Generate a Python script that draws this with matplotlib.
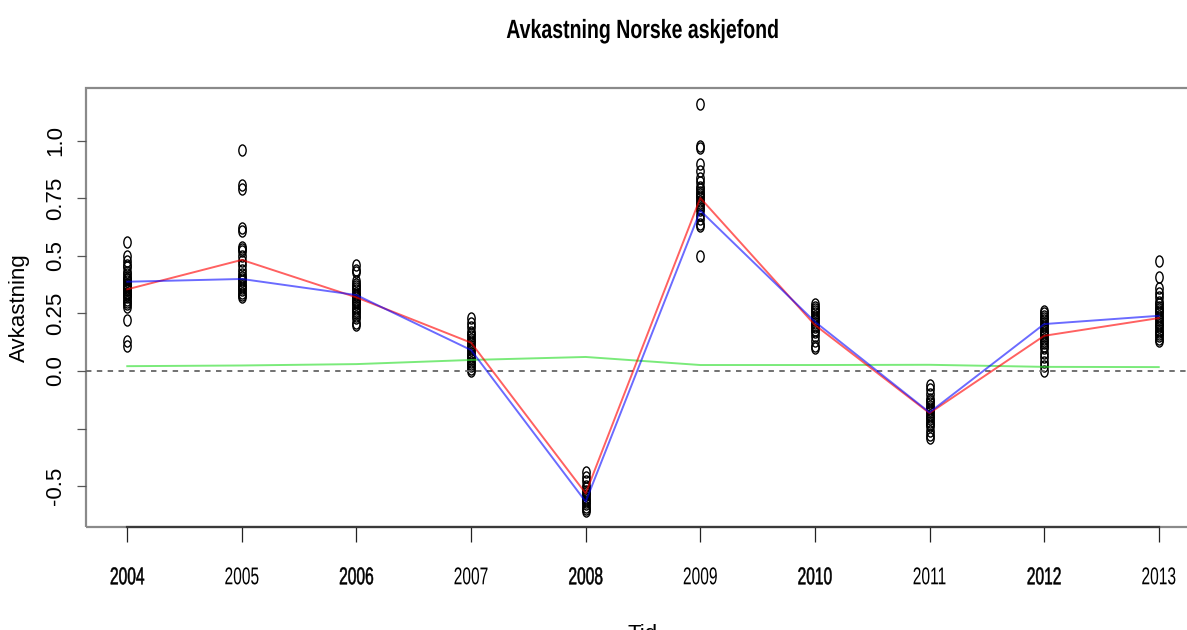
import matplotlib
matplotlib.use("Agg")
import matplotlib.pyplot as plt
from matplotlib.path import Path
from matplotlib.transforms import Affine2D
from matplotlib.patheffects import AbstractPathEffect
from matplotlib.patches import Rectangle

# ---- data -------------------------------------------------------------
years = [2004, 2005, 2006, 2007, 2008, 2009, 2010, 2011, 2012, 2013]
year_labels = ["2004", "2005", "2006", "2007", "2008",
               "2009", "2010", "2011", "2012", "2013"]

fund_2004 = [0.56, 0.50, 0.48, 0.46, 0.45, 0.43, 0.42, 0.41, 0.40, 0.40,
             0.39, 0.38, 0.38, 0.37, 0.37, 0.36, 0.36, 0.35, 0.35, 0.34,
             0.34, 0.33, 0.33, 0.32, 0.31, 0.30, 0.29, 0.28, 0.22, 0.13, 0.11]
fund_2005 = [0.96, 0.81, 0.79, 0.62, 0.61, 0.54, 0.53, 0.52, 0.50, 0.48,
             0.46, 0.44, 0.42, 0.41, 0.40, 0.39, 0.38, 0.37, 0.36, 0.35,
             0.34, 0.33, 0.32]
fund_2006 = [0.46, 0.44, 0.43, 0.39, 0.38, 0.37, 0.36, 0.35, 0.34, 0.33,
             0.33, 0.32, 0.31, 0.30, 0.30, 0.29, 0.28, 0.27, 0.26, 0.25,
             0.24, 0.23, 0.21, 0.20]
fund_2007 = [0.23, 0.21, 0.19, 0.17, 0.16, 0.15, 0.14, 0.13, 0.12, 0.11,
             0.10, 0.09, 0.08, 0.07, 0.06, 0.05, 0.04, 0.03, 0.02, 0.01, 0.00]
fund_2008 = [-0.44, -0.46, -0.48, -0.50, -0.51, -0.52, -0.53, -0.54,
             -0.55, -0.56, -0.57, -0.58, -0.59, -0.60, -0.61]
fund_2009 = [1.16, 0.98, 0.97, 0.90, 0.87, 0.84, 0.82, 0.80, 0.79, 0.78,
             0.77, 0.76, 0.75, 0.74, 0.73, 0.72, 0.71, 0.70, 0.68, 0.66,
             0.64, 0.63, 0.50]
fund_2010 = [0.29, 0.28, 0.27, 0.26, 0.25, 0.24, 0.23, 0.22, 0.21, 0.20,
             0.19, 0.18, 0.17, 0.15, 0.13, 0.11, 0.10]
fund_2011 = [-0.06, -0.08, -0.10, -0.12, -0.13, -0.14, -0.15, -0.16,
             -0.17, -0.18, -0.19, -0.20, -0.21, -0.22, -0.23, -0.24,
             -0.26, -0.28, -0.29]
fund_2012 = [0.26, 0.25, 0.24, 0.23, 0.22, 0.21, 0.20, 0.19, 0.18, 0.17,
             0.16, 0.15, 0.14, 0.13, 0.12, 0.11, 0.10, 0.08, 0.06, 0.04,
             0.02, 0.00]
fund_2013 = [0.48, 0.41, 0.36, 0.34, 0.32, 0.30, 0.29, 0.28, 0.27, 0.26,
             0.25, 0.24, 0.23, 0.22, 0.21, 0.20, 0.19, 0.18, 0.17, 0.16,
             0.15, 0.14, 0.13]

mean_return = [0.355, 0.483, 0.320, 0.123, -0.532, 0.752, 0.200, -0.183, 0.153, 0.230]
median_return = [0.388, 0.400, 0.330, 0.091, -0.568, 0.697, 0.214, -0.180, 0.204, 0.240]
riskfree_rate = [0.021, 0.024, 0.030, 0.048, 0.061, 0.026, 0.026, 0.027, 0.018, 0.017]

ytick_values = [-0.5, -0.25, 0.0, 0.25, 0.5, 0.75, 1.0]
ytick_labels = ["-0.5", "", "0.0", "0.25", "0.5", "0.75", "1.0"]


# ---- helpers ----------------------------------------------------------
class Squeeze(AbstractPathEffect):
    """Draw text horizontally compressed around its own centre,
    optionally with a thin outline to thicken the strokes."""

    def __init__(self, sx, stroke=0.0):
        super().__init__()
        self.sx = sx
        self.stroke = stroke

    def draw_path(self, renderer, gc, tpath, affine, rgbFace=None):
        ext = tpath.get_extents(affine)
        cx = 0.5 * (ext.x0 + ext.x1)
        squeeze = Affine2D().translate(-cx, 0).scale(self.sx, 1).translate(cx, 0)
        tr = affine + squeeze
        if self.stroke > 0:
            gc0 = renderer.new_gc()
            gc0.copy_properties(gc)
            gc0.set_linewidth(self.stroke)
            gc0.set_foreground(rgbFace if rgbFace is not None else "black")
            renderer.draw_path(gc0, tpath, tr, rgbFace)
            gc0.restore()
        else:
            renderer.draw_path(gc, tpath, tr, rgbFace)


# open, slightly narrow circle marker
ring = Path.unit_circle().transformed(Affine2D().scale(0.66, 1.0))

plt.rcParams["font.family"] = ["Liberation Sans", "DejaVu Sans"]

fig = plt.figure(figsize=(11.87, 6.30), dpi=100)
ax = fig.add_axes([86 / 1187, 1 - 527 / 630, 1114 / 1187, 439 / 630])
ax.set_xlim(2003.64, 2013.36)
ax.set_ylim(-0.678, 1.230)

funds = [fund_2004, fund_2005, fund_2006, fund_2007, fund_2008,
         fund_2009, fund_2010, fund_2011, fund_2012, fund_2013]
for yr, vals in zip(years, funds):
    ax.plot([yr] * len(vals), vals, linestyle="none", marker=ring,
            markersize=8.0, markerfacecolor="none", markeredgecolor="black",
            markeredgewidth=1.0, zorder=2)

ax.axhline(0.0, color="#666666", linestyle=(0, (3, 3)), linewidth=1.3, zorder=3)
ax.plot(years, riskfree_rate, color="#33e033", alpha=0.65, linewidth=1.4, zorder=4)
ax.plot(years, mean_return, color="#ff0000", alpha=0.62, linewidth=1.4, zorder=4)
ax.plot(years, median_return, color="#0000ff", alpha=0.58, linewidth=1.4, zorder=4)

# frame: light box, darker axis line along the bottom
for side in ("left", "right", "top"):
    ax.spines[side].set_visible(False)
ax.add_patch(Rectangle((0, 0), 1, 1, transform=ax.transAxes, fill=False,
                       edgecolor="#8a8a8a", linewidth=1.6, clip_on=False, zorder=1))
ax.spines["bottom"].set_bounds(years[0], years[-1])
ax.spines["bottom"].set_color("#3a3a3a")
ax.spines["bottom"].set_linewidth(1.6)

ax.set_xticks(years, year_labels)
ax.set_yticks(ytick_values, ytick_labels)
ax.tick_params(axis="x", length=11, width=0.9, color="#222222", pad=18,
               labelsize=17.5)
ax.tick_params(axis="y", length=6.5, width=0.9, color="#555555", pad=8,
               labelsize=16, labelrotation=90)
for lbl in ax.get_yticklabels():
    lbl.set_verticalalignment("center")
for i, lbl in enumerate(ax.get_xticklabels()):
    lbl.set_path_effects([Squeeze(0.64, stroke=0.35 if i % 2 == 0 else 0.0)])

ax.set_ylabel("Avkastning", fontsize=16, va="center")
ax.yaxis.set_label_coords(-0.0601, 0.5)
ax.set_xlabel("Tid", fontsize=16, va="top")
ax.xaxis.set_label_coords(0.5, -0.221)

title = ax.set_title("Avkastning Norske askjefond", fontsize=19,
                     fontweight="bold", pad=36)
title.set_path_effects([Squeeze(0.74)])

fig.savefig("out.png", dpi=100)
